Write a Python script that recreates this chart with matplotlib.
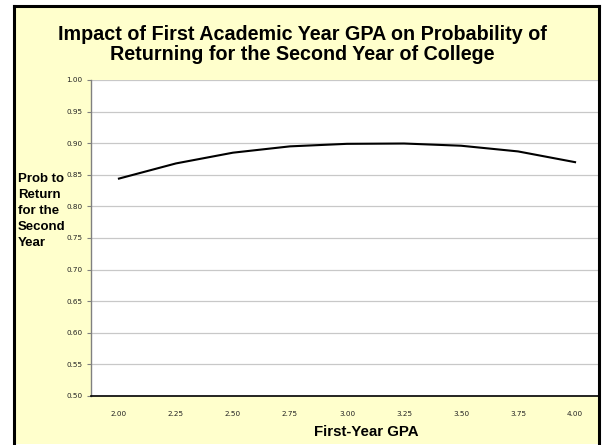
import matplotlib
matplotlib.use("Agg")
import matplotlib.pyplot as plt
from matplotlib.patches import Rectangle
from matplotlib.lines import Line2D

# First-year GPA categories and modelled probability of returning
gpa_labels = ["2.00", "2.25", "2.50", "2.75", "3.00", "3.25", "3.50", "3.75", "4.00"]
prob_return = [0.844, 0.868, 0.885, 0.895, 0.899, 0.8995, 0.896, 0.887, 0.870]
y_ticks = [0.50, 0.55, 0.60, 0.65, 0.70, 0.75, 0.80, 0.85, 0.90, 0.95, 1.00]

W, H = 602, 445
fig = plt.figure(figsize=(W / 100, H / 100), dpi=100)
fig.patch.set_facecolor("white")

def fx(px):
    return px / W

def fy(py):
    return 1 - py / H

# pale yellow chart area with a black frame (left, top, right)
fig.add_artist(Rectangle((fx(13.5), fy(444)), fx(599) - fx(13.5), fy(6) - fy(444),
                         transform=fig.transFigure, facecolor="#FFFFCC",
                         edgecolor="none", zorder=-5))
frame_kw = dict(transform=fig.transFigure, color="black", linewidth=2.2, zorder=10,
                solid_capstyle="projecting")
fig.add_artist(Line2D([fx(13.5), fx(13.5)], [fy(6), fy(445)], **frame_kw))
fig.add_artist(Line2D([fx(13.5), fx(599)], [fy(6), fy(6)], **frame_kw))
fig.add_artist(Line2D([fx(599), fx(599)], [fy(6), fy(445)], **frame_kw))

# plot area
left, right, top, bottom = 91, 599, 80, 396
ax = fig.add_axes([fx(left), fy(bottom), fx(right) - fx(left), fy(top) - fy(bottom)])
ax.set_facecolor("white")

x = list(range(len(gpa_labels)))
ax.plot(x, prob_return, color="black", linewidth=1.5, zorder=3)

ax.set_xlim(-0.49, 8.42)
ax.set_ylim(0.50, 1.00)
ax.set_yticks(y_ticks)
ax.set_yticklabels([f"{v:.2f}" for v in y_ticks], fontsize=5.2, color="#222222",
                   family="DejaVu Sans")
ax.set_xticks(x)
ax.set_xticklabels(gpa_labels, fontsize=5.2, color="#222222", family="DejaVu Sans")
ax.tick_params(axis="y", length=3, width=0.8, color="#808080", pad=3)
ax.tick_params(axis="x", length=0, pad=11)

ax.yaxis.grid(True, color="#C8C8C8", linewidth=0.9)
ax.set_axisbelow(True)
for s in ("top", "right"):
    ax.spines[s].set_visible(False)
ax.spines["left"].set_color("#808080")
ax.spines["left"].set_linewidth(1.0)
ax.spines["bottom"].set_color("black")
ax.spines["bottom"].set_linewidth(1.2)

# titles and axis labels
title_kw = dict(ha="center", va="center", fontsize=14.2, fontweight="bold",
                family="Liberation Sans", color="black")
fig.text(fx(302), fy(35), "Impact of First Academic Year GPA on Probability of", **title_kw)
fig.text(fx(302), fy(55), "Returning for the Second Year of College", **title_kw)

fig.text(fx(18), fy(211), "Prob to\nReturn\nfor the\nSecond\nYear", ha="left",
         va="center", multialignment="left", fontsize=9.5, fontweight="bold",
         family="Liberation Sans", linespacing=1.45)

fig.text(fx(366), fy(432), "First-Year GPA", ha="center", va="center",
         fontsize=10.8, fontweight="bold", family="Liberation Sans")

fig.savefig("out.png", dpi=100)
